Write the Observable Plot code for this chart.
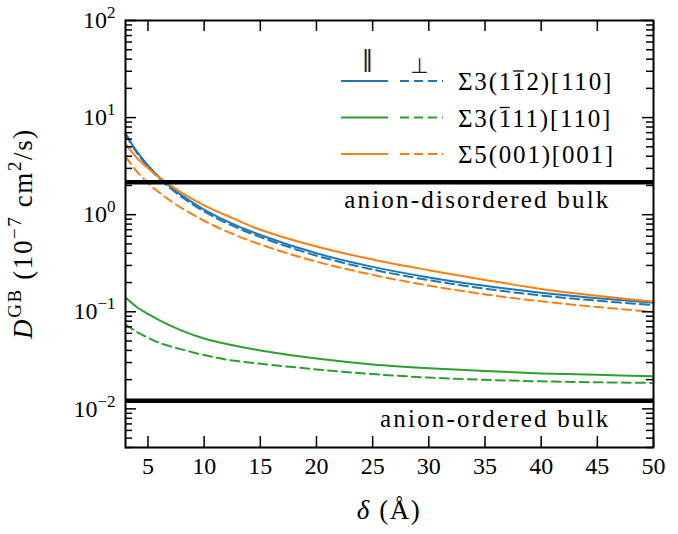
<!DOCTYPE html>
<html><head><meta charset="utf-8">
<script src="https://cdn.jsdelivr.net/npm/d3@7"></script>
<script src="https://cdn.jsdelivr.net/npm/@observablehq/plot@0.6"></script>
<style>body{margin:0;background:#fff}svg{display:block}</style>
</head><body><div id="chart"></div>
<script>
// ---- data ----
const delta = [3,4,5,6,7,8,10,12,15,20,25,30,35,40,45,50];
const s3_112_par  = [6.9,4.48,3.21,2.44,1.94,1.58,1.13,0.86,0.617,0.40,0.29,0.226,0.185,0.157,0.138,0.124];
const s3_112_perp = [6.7,4.36,3.12,2.36,1.87,1.52,1.08,0.82,0.588,0.378,0.272,0.212,0.173,0.147,0.13,0.117];
const s3_111_par  = [0.14,0.112,0.095,0.082,0.072,0.064,0.053,0.0465,0.040,0.033,0.0287,0.0262,0.0245,0.0232,0.0224,0.0217];
const s3_111_perp = [0.074,0.062,0.054,0.048,0.044,0.041,0.0358,0.0322,0.0292,0.0255,0.0228,0.021,0.0199,0.0192,0.0188,0.0185];
const s5_par      = [5.35,3.85,3.0,2.42,2.0,1.68,1.25,0.98,0.70,0.47,0.345,0.268,0.213,0.172,0.146,0.127];
const s5_perp     = [3.96,2.79,2.12,1.69,1.39,1.17,0.866,0.673,0.493,0.328,0.240,0.186,0.151,0.128,0.112,0.0996];
const bulkValues = [2.16, 0.0121];
const bulkLabels = ["anion-disordered bulk", "anion-ordered bulk"];
const gbLabels = ["Σ3(112)[110]", "Σ3(111)[110]", "Σ5(001)[001]"];
const gbBarIndex = [4, 3, -1];   // character that carries an overbar
const gbColors = ["#1f77b4", "#2ca02c", "#ff7f0e"];
const xTicks = [5,10,15,20,25,30,35,40,45,50];
const yTicks = [0.01, 0.1, 1, 10, 100];

// ---- build ----
const FONT = "'Liberation Serif', 'DejaVu Serif', serif";
const W = 678, H = 534, mL = 125, mR = 25, mT = 20, mB = 87;
const iW = W - mL - mR, iH = H - mT - mB;
const minorTicks = [];
for (const t of [0.001, ...yTicks]) for (let m = 2; m <= 9; m++) {
  const v = +(t * m).toPrecision(3);
  if (v >= 0.004 && v <= 100) minorTicks.push(v);
}
const seriesDefs = [
  {vals: s3_112_par, c: 0, dash: null}, {vals: s3_112_perp, c: 0, dash: "9,5"},
  {vals: s3_111_par, c: 1, dash: null}, {vals: s3_111_perp, c: 1, dash: "9,5"},
  {vals: s5_par, c: 2, dash: null}, {vals: s5_perp, c: 2, dash: "9,5"}
];
const lineMarks = seriesDefs.map(s => Plot.line(delta.map((d, i) => ({delta: d, D: s.vals[i]})), {
  x: "delta", y: "D", stroke: gbColors[s.c], strokeWidth: 2, strokeDasharray: s.dash, curve: "catmull-rom"
}));
const bulk = bulkValues.map((v, i) => ({v, label: bulkLabels[i]}));
const tw = 1.5, maj = 11, mnr = 7;
const svg = Plot.plot({
  width: W, height: H, marginLeft: mL, marginRight: mR, marginTop: mT, marginBottom: mB,
  style: {fontFamily: FONT, fontSize: "24px", background: "white", color: "black"},
  x: {domain: [3, 50]},
  y: {type: "log", domain: [0.004, 100]},
  marks: [
    ...lineMarks,
    Plot.ruleY(bulk, {y: "v", stroke: "black", strokeWidth: 4.5}),
    Plot.text(bulk, {y: "v", text: "label", frameAnchor: "right", textAnchor: "end", dx: -43, dy: 18, fill: "black", fontSize: 25}),
    Plot.tickX(xTicks, {x: d => d, insetTop: iH - maj, strokeWidth: tw}),
    Plot.tickX(xTicks, {x: d => d, insetBottom: iH - maj, strokeWidth: tw}),
    Plot.tickY(yTicks, {y: d => d, insetRight: iW - maj, strokeWidth: tw}),
    Plot.tickY(yTicks, {y: d => d, insetLeft: iW - maj, strokeWidth: tw}),
    Plot.tickY(minorTicks, {y: d => d, insetRight: iW - mnr, strokeWidth: tw}),
    Plot.tickY(minorTicks, {y: d => d, insetLeft: iW - mnr, strokeWidth: tw}),
    Plot.axisX(xTicks, {tickSize: 0, tickPadding: 9, label: null}),
    Plot.axisY(yTicks, {tickSize: 0, tickPadding: 10, label: null,
      tickFormat: d => String(Math.round(Math.log10(d))).replace("-", "\u2212")}),
    Plot.frame({stroke: "black", strokeWidth: 2})
  ]
});
document.getElementById("chart").append(svg);

const S = d3.select(svg);
S.attr("font-family", FONT).style("font-family", FONT);
S.selectAll("text").attr("font-family", FONT);
S.selectAll('g[aria-label="text"] text').attr("letter-spacing", "2.2px");

// superscript y tick labels
S.selectAll('g[aria-label="y-axis tick label"] text').each(function() {
  const t = d3.select(this);
  const e = t.text();
  t.text(null);
  t.append("tspan").text("10");
  t.append("tspan").attr("dy", "-10").attr("font-size", "17px").text(e);
});

// y-axis label
const yl = S.append("text").attr("transform", `translate(32,${mT + iH / 2}) rotate(-90)`)
  .attr("text-anchor", "middle").attr("font-size", "27px").attr("font-family", FONT).attr("letter-spacing", "1.6px");
yl.append("tspan").attr("font-style", "italic").text("D");
yl.append("tspan").attr("dy", "-11").attr("font-size", "19px").text("GB");
yl.append("tspan").attr("dy", "11").text("\u00A0(10");
yl.append("tspan").attr("dy", "-11").attr("font-size", "19px").text("\u22127");
yl.append("tspan").attr("dy", "11").text("\u00A0cm");
yl.append("tspan").attr("dy", "-11").attr("font-size", "19px").text("2");
yl.append("tspan").attr("dy", "11").text("/s)");

// x-axis label
const xl = S.append("text").attr("x", mL + iW / 2).attr("y", 519).attr("text-anchor", "middle")
  .attr("font-size", "27px").attr("font-family", FONT).attr("letter-spacing", "1.5px");
xl.append("tspan").attr("font-style", "italic").text("δ");
xl.append("tspan").text("\u00A0(Å)");

// legend
const lg = S.append("g").attr("font-size", "25px").attr("font-family", FONT).attr("fill", "black");
lg.append("text").attr("transform", "translate(367.5,67) rotate(0.01)").attr("text-anchor", "middle")
  .attr("font-family", "'DejaVu Sans'").attr("font-size", "23px").attr("fill", "#1a1a1a").text("\u2016");
lg.append("text").attr("transform", "translate(419.5,73) rotate(0.01)").attr("text-anchor", "middle")
  .attr("font-family", "'DejaVu Sans'").attr("font-size", "21px").attr("fill", "#1a1a1a").text("\u22A5");
gbLabels.forEach((lab, i) => {
  const y = 81 + i * 36.5;
  lg.append("line").attr("x1", 341).attr("x2", 388).attr("y1", y).attr("y2", y).attr("stroke", gbColors[i]).attr("stroke-width", 2);
  lg.append("line").attr("x1", 400).attr("x2", 443).attr("y1", y).attr("y2", y).attr("stroke", gbColors[i]).attr("stroke-width", 2).attr("stroke-dasharray", "9,5");
  const t = lg.append("text").attr("x", 458).attr("y", y + 9).attr("text-anchor", "start").attr("letter-spacing", "1.8px").text(lab);
  const k = gbBarIndex[i];
  if (k >= 0) {
    const n = t.node();
    const a = n.getStartPositionOfChar(k).x, b = n.getEndPositionOfChar(k).x;
    lg.append("line").attr("x1", a + 1).attr("x2", b - 2.5).attr("y1", y - 10).attr("y2", y - 10)
      .attr("stroke", "black").attr("stroke-width", 1.3);
  }
});
</script></body></html>
